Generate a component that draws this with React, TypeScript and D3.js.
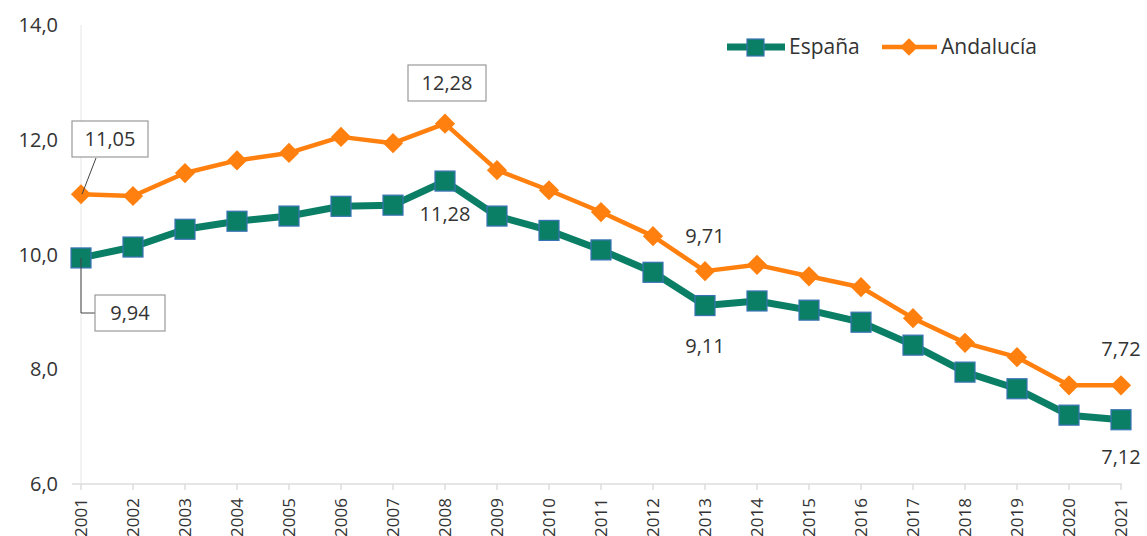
import React from 'react';
import * as d3 from 'd3';

const years = ['2001','2002','2003','2004','2005','2006','2007','2008','2009','2010','2011','2012','2013','2014','2015','2016','2017','2018','2019','2020','2021'];
const espana = [9.94,10.13,10.44,10.58,10.67,10.84,10.86,11.28,10.67,10.42,10.08,9.69,9.11,9.19,9.03,8.82,8.42,7.95,7.66,7.2,7.12];
const andalucia = [11.05,11.02,11.42,11.64,11.77,12.05,11.94,12.28,11.47,11.12,10.74,10.32,9.71,9.82,9.62,9.43,8.89,8.46,8.21,7.72,7.72];
const yTicks = [6,8,10,12,14];
const seriesNames = ['España','Andalucía'];

const GREEN = '#0b7f66';
const MARKER_EDGE = '#3a73b5';
const ORANGE = '#ff800e';
const FONT = '"Open Sans", "Noto Sans", sans-serif';
const TEXT = '#333';

const fmt = (v: number) => v.toFixed(2).replace('.', ',');

export default function App() {
  const width = 1147, height = 536;
  const x = d3.scalePoint<string>().domain(years).range([81, 1121]);
  const y = d3.scaleLinear().domain([6, 14]).range([484, 25]);

  const line = d3.line<number>()
    .x((d, i) => x(years[i]) as number)
    .y(d => y(d));

  const px = (i: number) => x(years[i]) as number;
  const ey = (i: number) => y(espana[i]);
  const ay = (i: number) => y(andalucia[i]);

  const iFirst = 0, iPeak = years.indexOf('2008'), i13 = years.indexOf('2013'), iLast = years.length - 1;

  const box = (cx: number, cy: number, w: number, h: number, label: string) => (
    <g>
      <rect x={cx - w / 2} y={cy - h / 2} width={w} height={h} fill="#fff" stroke="#999" strokeWidth={1.2} />
      <text x={cx} y={cy} dy="0.35em" textAnchor="middle" fontSize={20} fill={TEXT}>{label}</text>
    </g>
  );

  return (
    <svg width={width} height={height} style={{ position: 'absolute', left: 0, top: 0, background: '#fff' }} fontFamily={FONT}>
      {/* axes */}
      <line x1={81} x2={81} y1={y(14)} y2={y(6)} stroke="#e6e6e6" strokeWidth={1} />
      <line x1={72} x2={1122} y1={y(6)} y2={y(6)} stroke="#dcdcdc" strokeWidth={1.5} />
      {years.map((yr, i) => (
        <line key={'t' + yr} x1={px(i)} x2={px(i)} y1={y(6)} y2={y(6) + 6} stroke="#dcdcdc" strokeWidth={1.5} />
      ))}
      {yTicks.map(t => (
        <text key={t} x={58} y={y(t)} dy="0.35em" textAnchor="end" fontSize={20} fill={TEXT}>
          {t.toFixed(1).replace('.', ',')}
        </text>
      ))}
      {years.map((yr, i) => (
        <text key={yr} transform={`translate(${px(i)},${y(6) + 14}) rotate(-90)`} dy="0.35em" textAnchor="end" fontSize={17} fill={TEXT}>
          {yr}
        </text>
      ))}

      {/* series */}
      <path d={line(andalucia) || ''} fill="none" stroke={ORANGE} strokeWidth={4.5} strokeLinejoin="round" />
      {andalucia.map((v, i) => (
        <path key={'a' + i} d={d3.symbol(d3.symbolDiamond2, 260)() || ''} transform={`translate(${px(i)},${y(v)})`} fill={ORANGE} />
      ))}
      <path d={line(espana) || ''} fill="none" stroke={GREEN} strokeWidth={7} strokeLinejoin="round" />
      {espana.map((v, i) => (
        <rect key={'e' + i} x={px(i) - 10} y={y(v) - 10} width={20} height={20} fill={GREEN} stroke={MARKER_EDGE} strokeWidth={1.2} />
      ))}

      {/* annotations */}
      <line x1={px(iFirst) + 1} y1={ay(iFirst)} x2={96} y2={158} stroke="#444" strokeWidth={1} />
      {box(110, 139, 76, 36, fmt(andalucia[iFirst]))}
      <polyline points={`${px(iFirst)},${ey(iFirst)} ${px(iFirst)},${313} ${96},${313}`} fill="none" stroke="#444" strokeWidth={1} />
      {box(130, 313, 70, 36, fmt(espana[iFirst]))}
      {box(447, 83, 78, 36, fmt(andalucia[iPeak]))}
      <text x={px(iPeak)} y={ey(iPeak) + 33} dy="0.35em" textAnchor="middle" fontSize={20} fill={TEXT}>{fmt(espana[iPeak])}</text>
      <text x={px(i13)} y={ay(i13) - 35} dy="0.35em" textAnchor="middle" fontSize={20} fill={TEXT}>{fmt(andalucia[i13])}</text>
      <text x={px(i13)} y={ey(i13) + 40} dy="0.35em" textAnchor="middle" fontSize={20} fill={TEXT}>{fmt(espana[i13])}</text>
      <text x={px(iLast)} y={ay(iLast) - 36} dy="0.35em" textAnchor="middle" fontSize={20} fill={TEXT}>{fmt(andalucia[iLast])}</text>
      <text x={px(iLast)} y={ey(iLast) + 37} dy="0.35em" textAnchor="middle" fontSize={20} fill={TEXT}>{fmt(espana[iLast])}</text>

      {/* legend */}
      <g>
        <line x1={727} x2={785} y1={47} y2={47} stroke={GREEN} strokeWidth={7} />
        <rect x={747} y={39} width={17} height={17} fill={GREEN} stroke={MARKER_EDGE} strokeWidth={1.2} />
        <text x={789} y={47} dy="0.35em" fontSize={21} fill={TEXT}>{seriesNames[0]}</text>
        <line x1={882} x2={937} y1={47} y2={47} stroke={ORANGE} strokeWidth={4.5} />
        <path d={d3.symbol(d3.symbolDiamond2, 200)() || ''} transform="translate(909,47)" fill={ORANGE} />
        <text x={941} y={47} dy="0.35em" fontSize={21} fill={TEXT}>{seriesNames[1]}</text>
      </g>
    </svg>
  );
}
